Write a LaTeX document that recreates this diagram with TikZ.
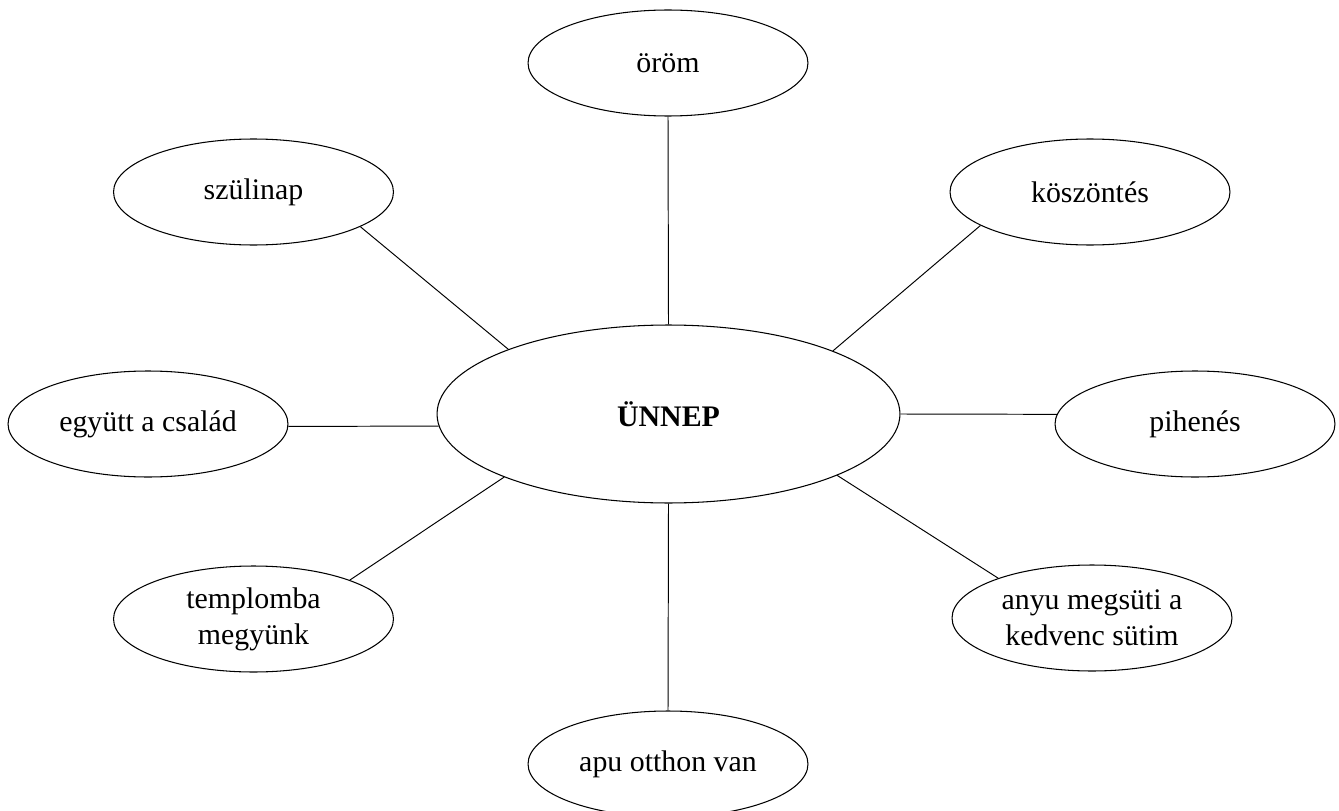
\documentclass[tikz,border=0pt]{standalone}
\usepackage{fontspec}
\setmainfont{Liberation Serif}
\usetikzlibrary{shapes.geometric}
\tikzset{
  bubble/.style={ellipse, draw, line width=0.6pt, inner sep=0pt,
    minimum width=5.6cm, minimum height=2.12cm, align=center,
    font=\fontsize{17}{20.5}\selectfont},
  hub/.style={ellipse, draw, line width=0.6pt, inner sep=0pt,
    minimum width=9.26cm, minimum height=3.56cm,
    font=\fontsize{17}{20.5}\selectfont\bfseries},
  link/.style={line width=0.55pt}
}
\begin{document}
\begin{tikzpicture}[x=0.02cm,y=-0.02cm]
\useasboundingbox (0,0) rectangle (1339,811);
\node[hub] (c) at (668.5,414) {ÜNNEP};
\node[bubble] (oro) at (668,63) {öröm};
\node[bubble] (szu) at (253.5,192) {szülinap};
\node[bubble] (kos) at (1090,192) {köszöntés};
\node[bubble] (egy) at (148,424) {együtt a család};
\node[bubble] (pih) at (1195,424) {pihenés};
\node[bubble] (tem) at (253.5,619) {templomba\\megyünk};
\node[bubble] (any) at (1092,618) {anyu megsüti a\\kedvenc sütim};
\node[bubble] (apu) at (668,764) {apu otthon van};
\draw[link] (c.north) -- (oro.south);
\draw[link] (c.158.2) -- (szu.-18.5);
\draw[link] (c.21.7) -- (kos.-163.2);
\draw[link] (c.183) -- (egy.-1);
\draw[link] (c.-0.5) -- (pih.176.7);
\draw[link] (c.201.3) -- (tem.22.7);
\draw[link] (c.-20.7) -- (any.157.5);
\draw[link] (c.south) -- (apu.north);
\end{tikzpicture}
\end{document}
